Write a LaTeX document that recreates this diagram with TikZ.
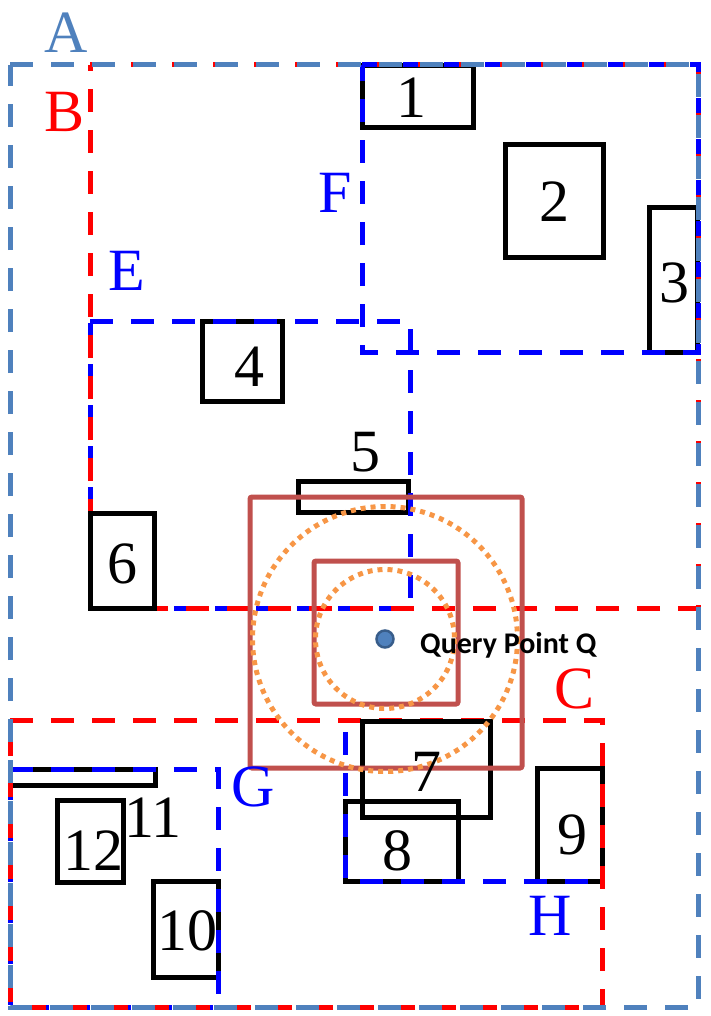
\documentclass[tikz,border=0pt]{standalone}
\usepackage{fontspec}
\setmainfont{Liberation Serif}
\newfontfamily\qfont{Carlito}
\definecolor{steelA}{RGB}{79,129,189}
\definecolor{steelD}{RGB}{56,93,138}
\definecolor{qred}{RGB}{192,80,77}
\definecolor{qorange}{RGB}{247,150,70}
\begin{document}
\begin{tikzpicture}[x=1pt,y=-1pt,
  regdash/.style={line width=5pt,dash pattern=on 23pt off 18pt},
  regA/.style={regdash,draw=steelA},
  regR/.style={regdash,draw=red},
  regB/.style={regdash,draw=blue},
  objbox/.style={draw=black,line width=5pt},
  qsq/.style={draw=qred,line width=5pt,rounded corners=2pt},
  qcirc/.style={draw=qorange,line width=5pt,dash pattern=on 5pt off 5pt},
  biglab/.style={font=\fontsize{60}{60}\selectfont,inner sep=0pt,anchor=base},
  numlab/.style={biglab,text=black}]
\useasboundingbox (0,0) rectangle (711,1016);
% object boxes
\draw[objbox] (362,66) rectangle (473,128);
\draw[objbox] (505,145) rectangle (603,257);
\draw[objbox] (649,208) rectangle (697,352);
\draw[objbox] (202,321) rectangle (282,401);
\draw[objbox] (298,481) rectangle (408,512);
\draw[objbox] (345,801) rectangle (458,881);
\draw[objbox] (537,768) rectangle (602,881);
\draw[objbox] (153,881) rectangle (218,977);
\draw[objbox] (10,769) rectangle (155,785);
\draw[objbox] (57,800) rectangle (123,882);
% blue regions
\draw[regB] (90,321) -- (410,321) -- (410,608) -- (90,608) -- cycle;
\draw[regB] (362,65) -- (698,65) -- (698,352) -- (362,352) -- cycle;
\draw[regB] (10,769) -- (218,769) -- (218,1007) -- (10,1007) -- cycle;
\draw[regB] (345,732) -- (345,881) -- (602,881);
% red regions
\draw[regR] (90,65) -- (698,65) -- (698,608) -- (90,608) -- cycle;
\draw[regR] (10,720) -- (602,720) -- (602,1007) -- (10,1007) -- cycle;
% steel region
\draw[regA] (10,65) -- (698,65) -- (698,1007) -- (10,1007) -- cycle;
% boxes drawn above
\draw[objbox] (90,513) rectangle (154,608);
\draw[objbox] (362,721) rectangle (490,817);
% query
\draw[qsq] (250,497) rectangle (522,768);
\draw[qsq] (314,561) rectangle (458,704);
\node[draw=none,inner sep=0pt] (q) at (385,639) {};
\draw[qcirc] (q.center) circle (132.5);
\draw[qcirc] (q.center) circle (69.5);
\filldraw[fill=steelA,draw=steelD,line width=2.5pt] (q.center) circle (8.5);
\node[font=\qfont\bfseries\fontsize{30}{30}\selectfont,anchor=base west,inner sep=0pt] (qt) at (420,653) {Query Point Q};
% region labels
\node[biglab,text=steelA] (la) at (66,53) {A};
\node[biglab,text=red] (lb) at (65,132) {B};
\node[biglab,text=red] (lc) at (575,708) {C};
\node[biglab,text=blue] (le) at (127,290) {E};
\node[biglab,text=blue] (lf) at (335,213) {F};
\node[biglab,text=blue] (lg) at (253,806) {G};
\node[biglab,text=blue] (lh) at (550,935) {H};
% number labels
\node[numlab] (n1) at (411,118) {1};
\node[numlab] (n2) at (554,222) {2};
\node[numlab] (n3) at (674,302) {3};
\node[numlab] (n4) at (249,386) {4};
\node[numlab] (n5) at (365,471) {5};
\node[numlab] (n6) at (122,583) {6};
\node[numlab] (n7) at (426,791) {7};
\node[numlab] (n8) at (397,870) {8};
\node[numlab] (n9) at (572,854) {9};
\node[numlab] (n10) at (187,950) {10};
\node[numlab] (n11) at (153,837) {11};
\node[numlab] (n12) at (93,870) {12};
\end{tikzpicture}
\end{document}
